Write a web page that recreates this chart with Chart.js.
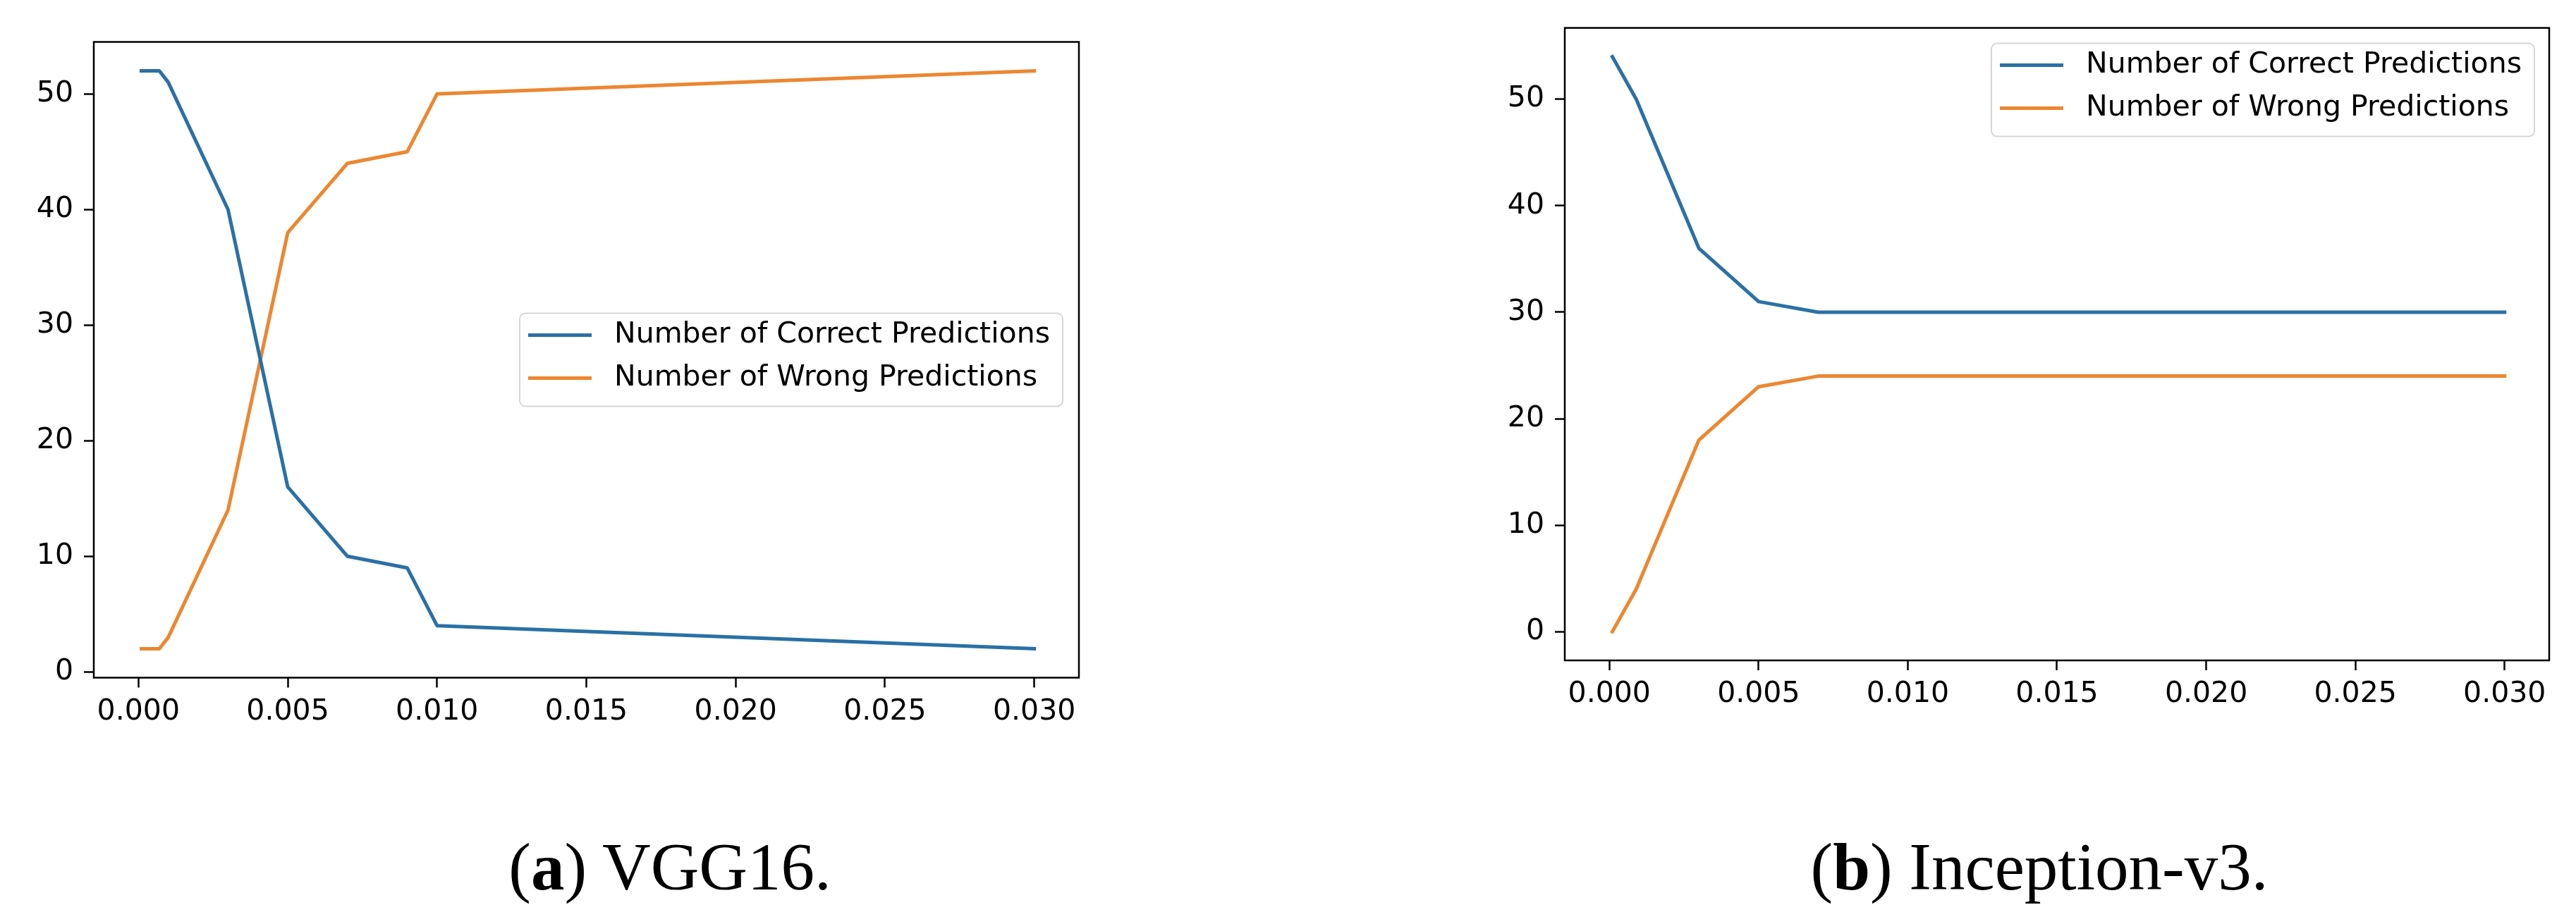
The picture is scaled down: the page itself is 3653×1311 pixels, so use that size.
<!DOCTYPE html>
<html>
<head>
<meta charset="utf-8">
<script src="https://cdn.jsdelivr.net/npm/chart.js@4.4.1/dist/chart.umd.min.js"></script>
<style>
  html, body { margin: 0; padding: 0; background: #fff; }
  body { width: 3653px; height: 1311px; position: relative; overflow: hidden; }
  .plot { position: absolute; top: 0; }
  .caption {
    position: absolute; top: 1183px; transform: translateX(-50%);
    font-family: "Liberation Serif", serif; font-size: 95px; line-height: 95px;
    color: #000; white-space: nowrap;
  }
</style>
</head>
<body>
<div class="plot" style="left:0px"><canvas id="vgg" width="1570" height="1060"></canvas></div>
<div class="plot" style="left:2080px"><canvas id="inc" width="1570" height="1060"></canvas></div>
<div class="caption" style="left:950px">(<b>a</b>) VGG16.</div>
<div class="caption" style="left:2892px">(<b>b</b>) Inception-v3.</div>

<script>
// data
const seriesNames = ["Number of Correct Predictions", "Number of Wrong Predictions"];

const vggEps     = [0.0001, 0.0007, 0.001, 0.003, 0.005, 0.007, 0.009, 0.010, 0.030];
const vggCorrect = [52, 52, 51, 40, 16, 10, 9, 4, 2];
const vggWrong   = [2, 2, 3, 14, 38, 44, 45, 50, 52];

const incEps     = [0.0001, 0.0009, 0.003, 0.005, 0.007, 0.030];
const incCorrect = [54, 50, 36, 31, 30, 30];
const incWrong   = [0, 4, 18, 23, 24, 24];

const xTicks = [0, 0.005, 0.010, 0.015, 0.020, 0.025, 0.030];
const yTicks = [0, 10, 20, 30, 40, 50];

const BLUE = "#2a70a6";
const ORANGE = "#ec8730";
const FONT = { family: "DejaVu Sans", size: 41 };

// full box around the plot area (matplotlib spines)
const frame = {
  id: "frame",
  afterDraw(chart) {
    const a = chart.chartArea, ctx = chart.ctx;
    ctx.save();
    ctx.strokeStyle = "#000";
    ctx.lineWidth = 2.5;
    ctx.strokeRect(a.left, a.top, a.right - a.left, a.bottom - a.top);
    ctx.restore();
  }
};

// legend drawn inside the axes like matplotlib
const boxLegend = {
  id: "boxLegend",
  afterDraw(chart, args, opts) {
    const a = chart.chartArea, ctx = chart.ctx;
    ctx.save();
    ctx.font = FONT.size + "px " + FONT.family;
    const sets = chart.data.datasets;
    const textW = Math.max(...sets.map(d => ctx.measureText(d.label).width));
    const w = 134 + textW + 18, h = 132;
    const x = a.right - opts.right - w;
    const y = opts.loc === "center right" ? (a.top + a.bottom) / 2 - h / 2 : a.top + opts.top;

    ctx.beginPath();
    ctx.roundRect(x, y, w, h, 8);
    ctx.fillStyle = "rgba(255,255,255,0.8)";
    ctx.fill();
    ctx.strokeStyle = "#d6d6d6";
    ctx.lineWidth = 2;
    ctx.stroke();

    sets.forEach((d, i) => {
      const ry = y + 31 + i * 61;
      ctx.beginPath();
      ctx.moveTo(x + 12, ry);
      ctx.lineTo(x + 102, ry);
      ctx.strokeStyle = d.borderColor;
      ctx.lineWidth = 5;
      ctx.stroke();
      ctx.fillStyle = "#000";
      ctx.textBaseline = "middle";
      ctx.fillText(d.label, x + 134, ry);
    });
    ctx.restore();
  }
};

function makeChart(id, eps, correct, wrong, cfg) {
  const pts = ys => eps.map((e, i) => ({ x: e, y: ys[i] }));
  const line = (label, ys, color) => ({
    label, data: pts(ys), borderColor: color, backgroundColor: color,
    borderWidth: 5, pointRadius: 0, tension: 0,
    borderJoinStyle: "round", borderCapStyle: "square"
  });
  return new Chart(document.getElementById(id), {
    type: "line",
    data: {
      datasets: [
        line(seriesNames[0], correct, BLUE),
        line(seriesNames[1], wrong, ORANGE)
      ]
    },
    plugins: [frame, boxLegend],
    options: {
      responsive: false,
      devicePixelRatio: 1,
      animation: false,
      layout: { padding: { left: 0, top: cfg.top, right: cfg.right, bottom: 0 } },
      plugins: {
        legend: { display: false },
        tooltip: { enabled: false },
        boxLegend: cfg.legend
      },
      scales: {
        x: {
          type: "linear",
          min: -0.001495, max: 0.031495,
          afterBuildTicks: s => { s.ticks = xTicks.map(v => ({ value: v })); },
          afterFit: s => { s.height = cfg.xHeight; },
          ticks: { font: FONT, color: "#000", padding: 10, maxRotation: 0, autoSkip: false,
                   callback: v => Number(v).toFixed(3) },
          grid: { drawOnChartArea: false, drawTicks: true, tickLength: 14, tickWidth: 2.5, tickColor: "#000" },
          border: { display: false }
        },
        y: {
          min: cfg.yMin, max: cfg.yMax,
          afterBuildTicks: s => { s.ticks = yTicks.map(v => ({ value: v })); },
          afterFit: s => { s.width = cfg.yWidth; },
          ticks: { font: FONT, color: "#000", padding: 15 },
          grid: { drawOnChartArea: false, drawTicks: true, tickLength: 14, tickWidth: 2.5, tickColor: "#000" },
          border: { display: false }
        }
      }
    }
  });
}

makeChart("vgg", vggEps, vggCorrect, vggWrong, {
  top: 59.5, right: 40, xHeight: 98.5, yWidth: 133,
  yMin: -0.5, yMax: 54.5,
  legend: { loc: "center right", right: 23 }
});

makeChart("inc", incEps, incCorrect, incWrong, {
  top: 30, right: 35, xHeight: 123, yWidth: 139,
  yMin: -2.7, yMax: 56.7,
  legend: { loc: "upper right", right: 21, top: 22 }
});
</script>
</body>
</html>
